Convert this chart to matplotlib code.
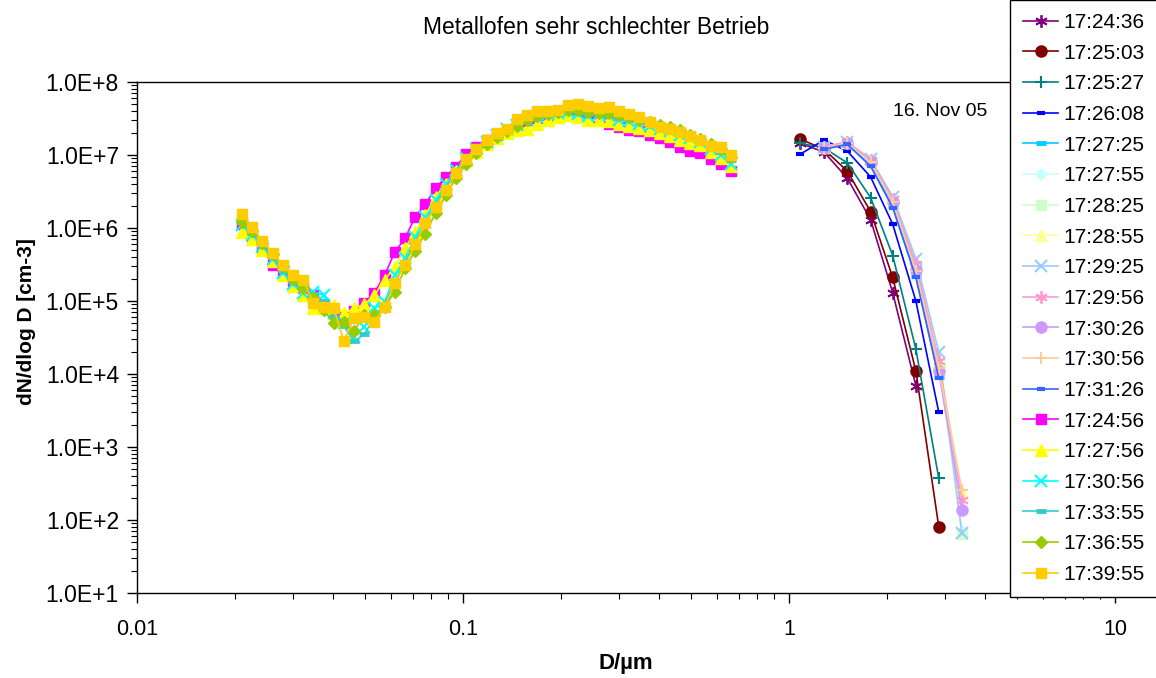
import matplotlib
matplotlib.use("Agg")
import matplotlib.pyplot as plt
from matplotlib.ticker import FuncFormatter, LogLocator, NullFormatter
import math

plt.rcParams['font.family'] = ['Liberation Sans', 'DejaVu Sans']

# OPC channels (right cluster), diameter in um
d_opc = [1.08, 1.28, 1.51, 1.78, 2.08, 2.45, 2.88, 3.39]
# SMPS channels (left cluster), diameter in um
d_smps = [0.0210, 0.02257, 0.02425, 0.02606, 0.02800, 0.03009, 0.03234, 0.03475,
          0.03734, 0.04013, 0.04312, 0.04634, 0.04980, 0.05351, 0.05750, 0.06179,
          0.06640, 0.07136, 0.07668, 0.08240, 0.08855, 0.09516, 0.1023, 0.1099,
          0.1181, 0.1269, 0.1364, 0.1465, 0.1575, 0.1692, 0.1818, 0.1954,
          0.2100, 0.2257, 0.2425, 0.2606, 0.2800, 0.3009, 0.3234, 0.3475,
          0.3734, 0.4013, 0.4312, 0.4634, 0.4980, 0.5351, 0.5750, 0.6179, 0.6640]

# OPC series (None = no value)
opc_172436 = [1.45e7, 1.1e7, 4.8e6, 1.3e6, 1.3e5, 6.9e3, None, None]
opc_172503 = [1.66e7, 1.2e7, 6.0e6, 1.67e6, 2.1e5, 1.1e4, 81, None]
opc_172527 = [1.45e7, 1.25e7, 7.8e6, 2.6e6, 4.2e5, 2.2e4, 372, None]
opc_172608 = [1.02e7, 1.6e7, 1.13e7, 5.0e6, 1.13e6, 1.0e5, 3.0e3, None]
opc_172725 = [None, 1.2e7, 1.4e7, 7.2e6, 2.0e6, 2.2e5, 9.0e3, None]
opc_172755 = [None, 1.25e7, 1.45e7, 8.0e6, 2.3e6, 2.8e5, 1.3e4, 70]
opc_172825 = [None, 1.25e7, 1.45e7, 8.2e6, 2.4e6, 3.0e5, 1.4e4, 65]
opc_172855 = [None, 1.3e7, 1.5e7, 8.4e6, 2.5e6, 3.1e5, 1.5e4, 240]
opc_172925 = [None, 1.3e7, 1.5e7, 8.8e6, 2.7e6, 3.8e5, 2.0e4, 67]
opc_172956 = [None, 1.3e7, 1.5e7, 8.5e6, 2.5e6, 3.2e5, 1.5e4, 190]
opc_173026 = [None, 1.25e7, 1.45e7, 8.0e6, 2.3e6, 2.7e5, 1.1e4, 137]
opc_173056 = [None, 1.25e7, 1.45e7, 8.0e6, 2.3e6, 2.6e5, 1.2e4, 260]
opc_173126 = [None, 1.2e7, 1.4e7, 7.0e6, 1.9e6, 2.1e5, 8.8e3, None]

# SMPS series
smps_172456 = [1.13e6, 7.8e5, 5.3e5, 3.1e5, 2.5e5, 1.9e5, 1.5e5, 1.2e5, 8.5e4, 6.8e4,
               6.0e4, 7.2e4, 9.3e4, 1.3e5, 2.27e5, 4.7e5, 7.2e5, 1.43e6, 2.13e6, 3.5e6,
               5.0e6, 6.9e6, 1.03e7, 1.3e7, 1.6e7, 1.9e7, 2.2e7, 2.6e7, 2.9e7, 3.2e7,
               3.4e7, 3.5e7, 3.6e7, 3.5e7, 3.3e7, 3.1e7, 2.7e7, 2.44e7, 2.2e7, 2.1e7,
               1.9e7, 1.7e7, 1.52e7, 1.27e7, 1.15e7, 1.05e7, 8.7e6, 7.5e6, 6.0e6]
smps_172756 = [8.9e5, 7.0e5, 5.0e5, 3.5e5, 2.3e5, 1.6e5, 1.2e5, 7.9e4, 8.0e4, 8.8e4,
               6.8e4, 7.9e4, 9.0e4, 1.2e5, 1.94e5, 2.95e5, 5.3e5, 8.9e5, 1.5e6, 2.7e6,
               4.0e6, 6.0e6, 8.5e6, 1.1e7, 1.4e7, 1.7e7, 2.0e7, 2.2e7, 2.3e7, 2.7e7,
               3.0e7, 3.35e7, 3.5e7, 3.35e7, 3.0e7, 3.0e7, 2.95e7, 2.7e7, 2.5e7, 2.35e7,
               2.2e7, 2.0e7, 1.8e7, 1.6e7, 1.45e7, 1.37e7, 1.1e7, 9.0e6, 7.1e6]
smps_173056 = [1.1e6, 8.0e5, 5.6e5, 3.8e5, 2.4e5, 1.7e5, 1.3e5, 1.34e5, 1.2e5, 6.8e4,
               5.0e4, 3.2e4, 4.4e4, 7.9e4, 9.8e4, 2.27e5, 3.85e5, 7.6e5, 1.4e6, 2.4e6,
               4.0e6, 6.3e6, 9.0e6, 1.2e7, 1.5e7, 1.9e7, 2.3e7, 2.6e7, 3.0e7, 3.3e7,
               3.6e7, 3.8e7, 3.9e7, 3.7e7, 3.4e7, 3.7e7, 3.5e7, 3.0e7, 2.9e7, 2.7e7,
               2.5e7, 2.3e7, 2.1e7, 1.9e7, 1.7e7, 1.5e7, 1.2e7, 1.0e7, 7.5e6]
smps_173355 = [1.2e6, 8.5e5, 5.8e5, 4.0e5, 2.6e5, 1.8e5, 1.4e5, 1.25e5, 1.0e5, 6.0e4,
               4.5e4, 2.8e4, 3.5e4, 6.0e4, 9.0e4, 1.8e5, 3.3e5, 6.5e5, 1.2e6, 2.1e6,
               3.6e6, 6.0e6, 8.8e6, 1.2e7, 1.55e7, 1.9e7, 2.3e7, 2.7e7, 3.1e7, 3.4e7,
               3.7e7, 3.8e7, 4.0e7, 3.8e7, 3.6e7, 3.6e7, 3.4e7, 3.2e7, 3.0e7, 2.8e7,
               2.6e7, 2.4e7, 2.2e7, 2.0e7, 1.75e7, 1.55e7, 1.3e7, 1.1e7, 8.5e6]
smps_173655 = [1.2e6, 9.0e5, 6.2e5, 4.4e5, 3.0e5, 2.0e5, 1.5e5, 1.1e5, 7.5e4, 5.0e4,
               5.2e4, 3.9e4, 6.4e4, 6.5e4, 8.3e4, 1.34e5, 2.8e5, 4.9e5, 8.4e5, 1.6e6,
               2.8e6, 4.8e6, 7.5e6, 1.05e7, 1.4e7, 1.75e7, 2.1e7, 2.5e7, 3.0e7, 3.4e7,
               3.7e7, 3.9e7, 4.2e7, 4.1e7, 3.9e7, 3.8e7, 3.8e7, 3.5e7, 3.3e7, 3.0e7,
               2.8e7, 2.6e7, 2.4e7, 2.2e7, 1.9e7, 1.65e7, 1.4e7, 1.2e7, 9.5e6]
smps_173955 = [1.54e6, 1.04e6, 6.6e5, 4.6e5, 3.1e5, 2.3e5, 1.94e5, 9.5e4, 8.2e4, 7.9e4,
               2.8e4, 5.8e4, 6.0e4, 5.2e4, 8.2e4, 1.78e5, 3.1e5, 6.0e5, 1.18e6, 1.96e6,
               3.3e6, 5.7e6, 8.7e6, 1.2e7, 1.6e7, 2.0e7, 2.3e7, 3.1e7, 3.5e7, 4.0e7,
               4.0e7, 4.1e7, 4.8e7, 4.95e7, 4.7e7, 4.4e7, 4.6e7, 4.0e7, 3.7e7, 3.3e7,
               2.86e7, 2.44e7, 2.3e7, 2.08e7, 1.84e7, 1.6e7, 1.33e7, 1.27e7, 1.0e7]

star = (6, 2, 0)
# label, x, y, colour, marker, marker size, marker edge width
series = [
    ("17:24:36", d_opc, opc_172436, "#800080", star, 9, 1.3),
    ("17:25:03", d_opc, opc_172503, "#800000", "o", 8, 1.0),
    ("17:25:27", d_opc, opc_172527, "#008080", "+", 9, 1.5),
    ("17:26:08", d_opc, opc_172608, "#0000FF", "_", 6, 3.0),
    ("17:27:25", d_opc, opc_172725, "#00CCFF", "_", 7, 3.5),
    ("17:27:55", d_opc, opc_172755, "#CCFFFF", "D", 6, 1.0),
    ("17:28:25", d_opc, opc_172825, "#CCFFCC", "s", 7, 1.0),
    ("17:28:55", d_opc, opc_172855, "#FFFF99", "^", 8, 1.0),
    ("17:29:25", d_opc, opc_172925, "#99CCFF", "x", 8, 1.5),
    ("17:29:56", d_opc, opc_172956, "#FF99CC", star, 9, 1.3),
    ("17:30:26", d_opc, opc_173026, "#CC99FF", "o", 8, 1.0),
    ("17:30:56", d_opc, opc_173056, "#FFCC99", "+", 9, 1.5),
    ("17:31:26", d_opc, opc_173126, "#3366FF", "_", 6, 3.0),
    ("17:24:56", d_smps, smps_172456, "#FF00FF", "s", 7, 1.0),
    ("17:27:56", d_smps, smps_172756, "#FFFF00", "^", 8, 1.0),
    ("17:30:56", d_smps, smps_173056, "#00FFFF", "x", 8, 1.5),
    ("17:33:55", d_smps, smps_173355, "#33CCCC", "_", 7, 3.5),
    ("17:36:55", d_smps, smps_173655, "#99CC00", "D", 6, 1.0),
    ("17:39:55", d_smps, smps_173955, "#FFCC00", "s", 7, 1.0),
]

fig = plt.figure(figsize=(11.56, 6.78), dpi=100)
ax = fig.add_axes([137 / 1156, 1 - 593 / 678, (1115 - 137) / 1156, (593 - 82) / 678])

for label, xs, ys, col, mk, ms, mew in series:
    pts = [(x, y) for x, y in zip(xs, ys) if y is not None]
    ax.plot([p[0] for p in pts], [p[1] for p in pts], color=col, lw=1.2,
            marker=mk, ms=ms, mew=mew, mec=col, mfc=col, label=label)

ax.set_xscale("log")
ax.set_yscale("log")
ax.set_xlim(0.01, 10)
ax.set_ylim(10, 1e8)


def sci_fmt(v, pos):
    return "1.0E+%d" % int(round(math.log10(v)))


ax.yaxis.set_major_locator(LogLocator(base=10, numticks=10))
ax.yaxis.set_major_formatter(FuncFormatter(sci_fmt))
ax.yaxis.set_minor_locator(LogLocator(base=10, subs=range(2, 10), numticks=20))
ax.yaxis.set_minor_formatter(NullFormatter())
ax.xaxis.set_major_formatter(FuncFormatter(lambda v, p: "%g" % v))
ax.xaxis.set_minor_formatter(NullFormatter())
ax.tick_params(axis="both", which="major", direction="out", length=7, width=1)
ax.tick_params(axis="both", which="minor", direction="out", length=4, width=0.8)
ax.tick_params(axis="y", labelsize=16.5, pad=6)
ax.tick_params(axis="x", labelsize=15.5, pad=12)
for s in ax.spines.values():
    s.set_linewidth(1.0)

ax.set_xlabel("D/µm", fontsize=16, fontweight="bold")
ax.xaxis.set_label_coords(0.5, -(663 - 593) / 511)
ax.set_ylabel("dN/dlog D [cm-3]", fontsize=15, fontweight="bold")
ax.yaxis.set_label_coords((27 - 137) / 978, (593 - 322) / 511)
ax.xaxis.label.set_va("center")
ax.yaxis.label.set_va("center")

fig.text(596 / 1156, 1 - 28 / 678, "Metallofen sehr schlechter Betrieb",
         fontsize=16.5, ha="center", va="center")
fig.text(940 / 1156, 1 - 112 / 678, "16. Nov 05", fontsize=14, ha="center", va="center")

leg = fig.legend(loc="upper left", bbox_to_anchor=(1010 / 1156, 1.0), fontsize=15,
                 frameon=True, fancybox=False, edgecolor="black", framealpha=1,
                 labelspacing=0.56, handlelength=1.7, handletextpad=0.25,
                 borderpad=0.62, borderaxespad=0)
leg.get_frame().set_linewidth(1.0)

fig.savefig("out.png", dpi=100)
